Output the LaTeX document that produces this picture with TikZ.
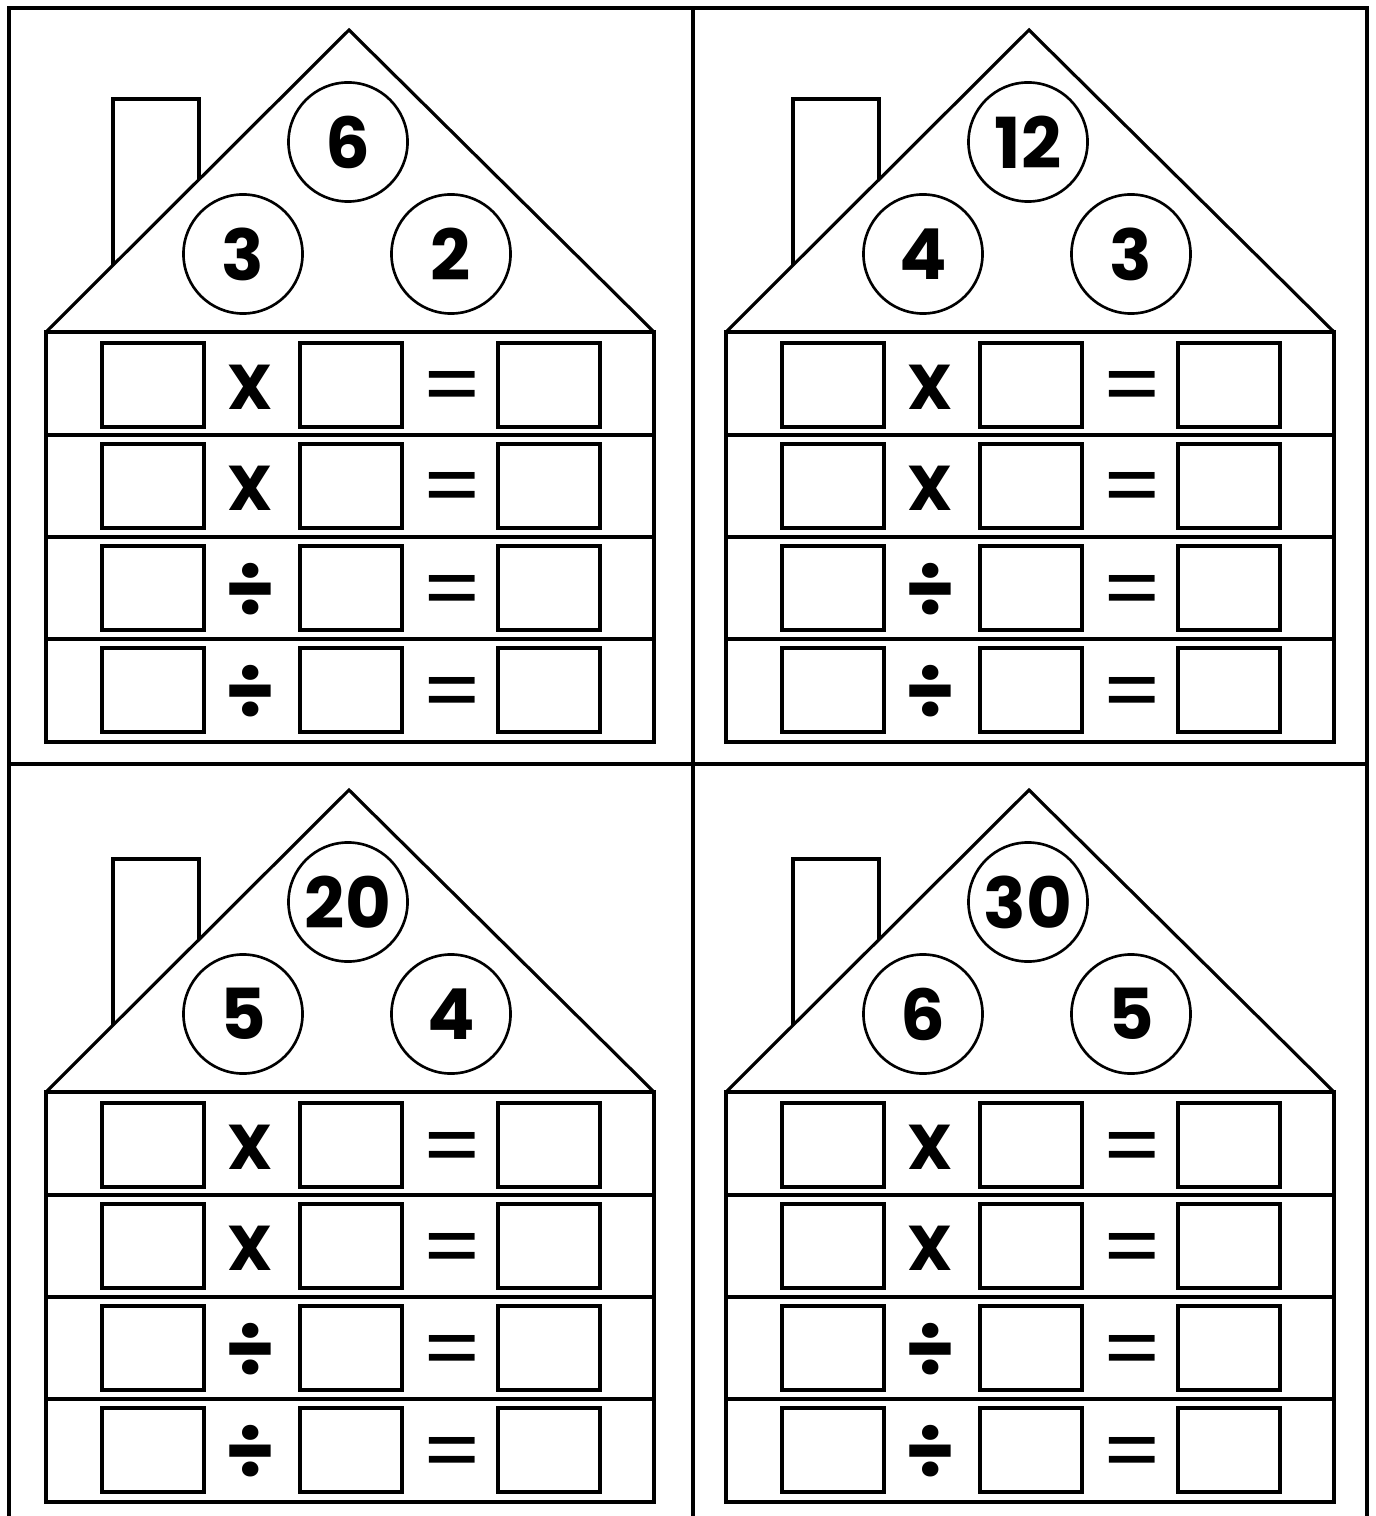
\documentclass[tikz,border=0pt]{standalone}
\usepackage{fontspec}
\setmainfont{Poppins}
\usetikzlibrary{positioning}
\tikzset{
  frameline/.style={line width=1pt},
  wall/.style={line width=0.9pt,line join=miter},
  numcirc/.style={draw,circle,line width=0.75pt,minimum size=1.19cm,
    inner sep=0pt,font=\fontsize{20}{20}\selectfont\bfseries},
  ansbox/.style={draw,line width=1.15pt,minimum width=1.02cm,
    minimum height=0.84cm,inner sep=0pt},
  opsign/.style={inner sep=0pt,font=\fontsize{18}{18}\selectfont\bfseries},
  divsign/.style={inner sep=0pt,font=\fontsize{23}{23}\selectfont\bfseries},
  eqsign/.style={inner sep=0pt,anchor=base,text height=0.25cm,text depth=0pt,
    font=\fontsize{25}{25}\selectfont}
}

\begin{document}
\begin{tikzpicture}[x=0.01cm,y=-0.01cm]
  \useasboundingbox (0,0) rectangle (1375,1516);
  \fill[white] (0,0) rectangle (1375,1516);
  % page frame
  \draw[frameline] (9,1516) -- (9,8) -- (1367,8) -- (1367,1516);
  \draw[frameline] (693,8) -- (693,1516);
  \draw[frameline] (9,764) -- (1367,764);
  % four fact houses
  \foreach \hx/\hy/\ntop/\nleft/\nright [count=\k] in
      {0/0/6/3/2, 680/0/12/4/3, 0/760/20/5/4, 680/760/30/6/5}{
    \begin{scope}[shift={(\hx,\hy)}]
      \coordinate (apex\k) at (349,30);
      \coordinate (eaveL\k) at (46,332);
      \coordinate (eaveR\k) at (654,332);
      % chimney
      \draw[wall] (113,265) -- (113,99) -- (199,99) -- (199,180);
      % roof and walls
      \draw[wall] (eaveL\k) -- (apex\k) -- (eaveR\k);
      \draw[wall] (eaveL\k) rectangle (654,742);
      \foreach \ly in {435,537,639}
        \draw[wall] (46,\ly) -- (654,\ly);
      % fact family numbers
      \node[numcirc] (top\k) at (348,142) {\ntop};
      \node[numcirc] (left\k) at (243,254) {\nleft};
      \node[numcirc] (right\k) at (451,254) {\nright};
      % number sentences
      \foreach \ry/\op/\opstyle [count=\r] in
          {385/X/opsign,486/X/opsign,588/÷/divsign,690/÷/divsign}{
        \node[ansbox] (a\k\r) at (153,\ry) {};
        \node[\opstyle] (op\k\r) at (250,\ry+2) {\op};
        \node[ansbox] (b\k\r) at (351,\ry) {};
        \node[eqsign] (eq\k\r) at (452,\ry+32) {=};
        \node[ansbox] (c\k\r) at (549,\ry) {};
      }
    \end{scope}
  }
\end{tikzpicture}
\end{document}
